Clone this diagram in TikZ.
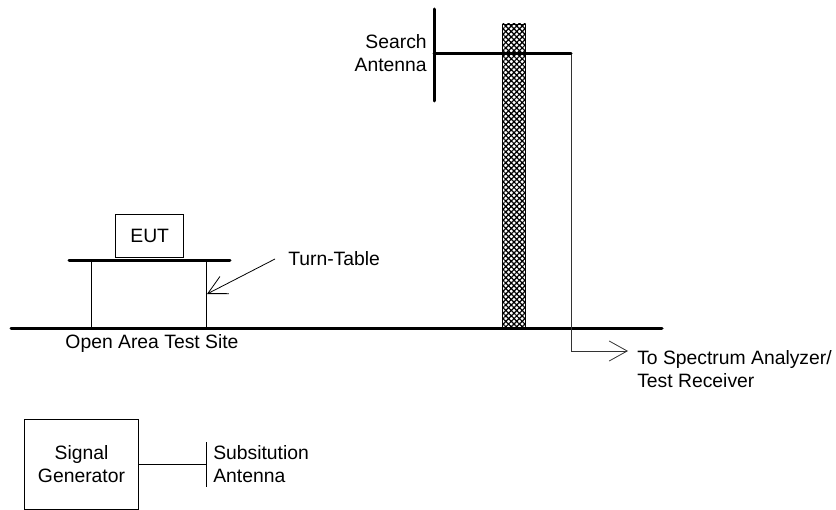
\documentclass[tikz,border=0pt]{standalone}
\usepackage{fontspec}
\setmainfont{Liberation Sans}
\usetikzlibrary{arrows.meta,patterns.meta}

\tikzset{
    heavy/.style={line width=2.25pt, line cap=round},
    wire/.style={line width=0.6pt},
    label/.style={font=\fontsize{14.5}{17.25}\selectfont, inner sep=0pt, align=left},
    openarrow/.style={-{Straight Barb[length=13.5pt,width=15pt,line width=0.6pt]}},
    thinarrow/.style={-{Straight Barb[length=14pt,width=14.5pt,line width=0.6pt]}},
}

\begin{document}
\begin{tikzpicture}[x=0.75pt,y=-0.75pt]
    \useasboundingbox (0,0) rectangle (836,510);

    % Ground and pole
    \node[draw, wire, minimum width=17.25pt, minimum height=228pt, inner sep=0pt,
          pattern={Hatch[angle=45,distance=2.9pt,line width=0.9pt]}] (pole) at (514,176) {};
    \coordinate (gndL) at (11,328);
    \coordinate (gndR) at (662,328);
    \draw[heavy] (gndL) -- (gndR);

    % Search antenna
    \coordinate (antTop) at (434,9);
    \coordinate (antBot) at (434,101);
    \coordinate (antMid) at (434,54);
    \coordinate (antEnd) at (571,54);
    \coordinate (cableBend) at (571,351);
    \coordinate (cableTip) at (628,351);
    \draw[heavy] (antTop) -- (antBot);
    \draw[wire, draw=black!80] (antEnd) -- (cableBend);
    \draw[wire, draw=black!80, openarrow] (cableBend) -- (cableTip);
    \draw[heavy] (antMid) -- (antEnd);
    \node[label, align=right, anchor=east] (search) at (427,53.5) {Search\\Antenna};
    \node[label, anchor=west] (spectrum) at (637,369) {To Spectrum Analyzer/\\Test Receiver};

    % Turn table with EUT
    \node[draw, wire, minimum width=51pt, minimum height=32.25pt, inner sep=0pt, label] (eut) at (149.7,235.5) {EUT};
    \coordinate (tableL) at (69,260);
    \coordinate (tableR) at (230,260);
    \coordinate (legAtop) at (91,260);
    \coordinate (legAbot) at (91,328);
    \coordinate (legBtop) at (206.5,260);
    \coordinate (legBbot) at (206.5,328);
    \draw[wire] (legAtop) -- (legAbot);
    \draw[wire] (legBtop) -- (legBbot);
    \draw[heavy] (tableL) -- (tableR);
    \node[label, anchor=west] (turn) at (288,259) {Turn-Table};
    \coordinate (turnTail) at (275,259);
    \coordinate (turnTip) at (207,294);
    \draw[wire, thinarrow] (turnTail) -- (turnTip);
    \node[label, anchor=center] (site) at (152,343) {Open Area Test Site};

    % Signal generator
    \node[draw, wire, minimum width=85.5pt, minimum height=67.5pt, inner sep=0pt, label, align=center] (gen) at (81.5,464) {Signal\\Generator};
    \coordinate (subTop) at (206.5,442);
    \coordinate (subBot) at (206.5,487);
    \coordinate (subMid) at (206.5,464.5);
    \draw[wire] (subTop) -- (subBot);
    \draw[wire] (gen.east |- subMid) -- (subMid);
    \node[label, anchor=west] (sub) at (213,464.5) {Subsitution\\Antenna};
\end{tikzpicture}
\end{document}
